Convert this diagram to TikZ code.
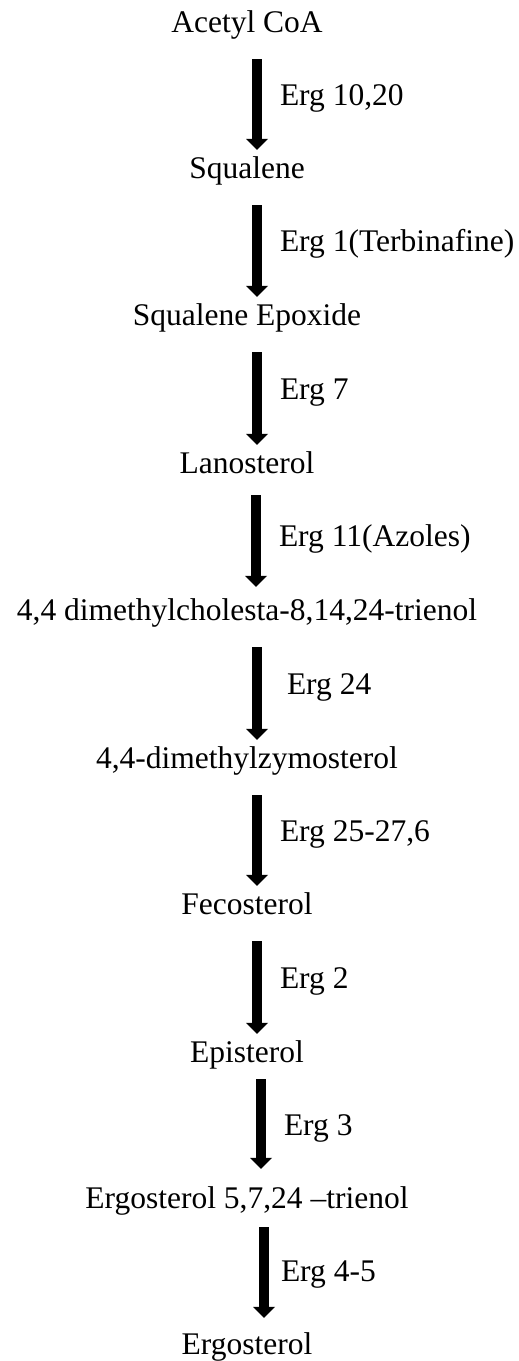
\documentclass[tikz,border=0pt]{standalone}
\usepackage{fontspec}
\setmainfont{Liberation Serif}
\usetikzlibrary{positioning,arrows.meta}

\begin{document}
\begin{tikzpicture}[x=0.5pt, y=-0.5pt, font=\fontsize{15.75}{19}\selectfont,
      cmpd/.style={inner sep=0pt, text height=7.9pt, text depth=7.9pt},
      arr/.style={line width=5pt, -{Triangle[width=11pt, length=5.5pt, line width=0pt]},
                  shorten <=5.5pt, shorten >=6pt},
      lbl/.style={anchor=base west, inner sep=0pt, xshift=9pt}]
    \useasboundingbox (0,0) rectangle (519,1361);
    % compounds
    \node[cmpd, anchor=base] (acoa) at (247,32) {Acetyl CoA};
    \node[cmpd, below=73pt of acoa.base, anchor=base] (sq) {Squalene};
    \node[cmpd, below=73.5pt of sq.base, anchor=base] (sqep) {Squalene Epoxide};
    \node[cmpd, below=74pt of sqep.base, anchor=base] (lano) {Lanosterol};
    \node[cmpd, below=73.5pt of lano.base, anchor=base] (dmct) {4,4 dimethylcholesta-8,14,24-trienol};
    \node[cmpd, below=74pt of dmct.base, anchor=base] (dmzy) {4,4-dimethylzymosterol};
    \node[cmpd, below=73pt of dmzy.base, anchor=base] (feco) {Fecosterol};
    \node[cmpd, below=74pt of feco.base, anchor=base] (epis) {Episterol};
    \node[cmpd, below=73pt of epis.base, anchor=base] (ertr) {Ergosterol 5,7,24 --trienol};
    \node[cmpd, below=73pt of ertr.base, anchor=base] (ergo) {Ergosterol};
    % enzymes
    \draw[arr] ([xshift=5pt]acoa.south) -- node[lbl]{Erg 10,20} ([xshift=5pt]sq.north);
    \draw[arr] ([xshift=5pt]sq.south) -- node[lbl]{Erg 1(Terbinafine)} ([xshift=5pt]sqep.north);
    \draw[arr] ([xshift=5pt]sqep.south) -- node[lbl]{Erg 7} ([xshift=5pt]lano.north);
    \draw[arr, shorten <=3pt, shorten >=8.5pt] ([xshift=4.5pt]lano.south) -- node[lbl]{Erg 11(Azoles)} ([xshift=4.5pt]dmct.north);
    \draw[arr] ([xshift=5pt]dmct.south) -- node[lbl, xshift=3.5pt]{Erg 24} ([xshift=5pt]dmzy.north);
    \draw[arr] ([xshift=5pt]dmzy.south) -- node[lbl]{Erg 25-27,6} ([xshift=5pt]feco.north);
    \draw[arr] ([xshift=5pt]feco.south) -- node[lbl]{Erg 2} ([xshift=5pt]epis.north);
    \draw[arr, shorten <=0.5pt, shorten >=11.5pt] ([xshift=7pt]epis.south) -- node[lbl]{Erg 3} ([xshift=7pt]ertr.north);
    \draw[arr, shorten <=1.5pt, shorten >=10pt] ([xshift=8.5pt]ertr.south) -- node[lbl, xshift=-3pt]{Erg 4-5} ([xshift=8.5pt]ergo.north);
\end{tikzpicture}
\end{document}
